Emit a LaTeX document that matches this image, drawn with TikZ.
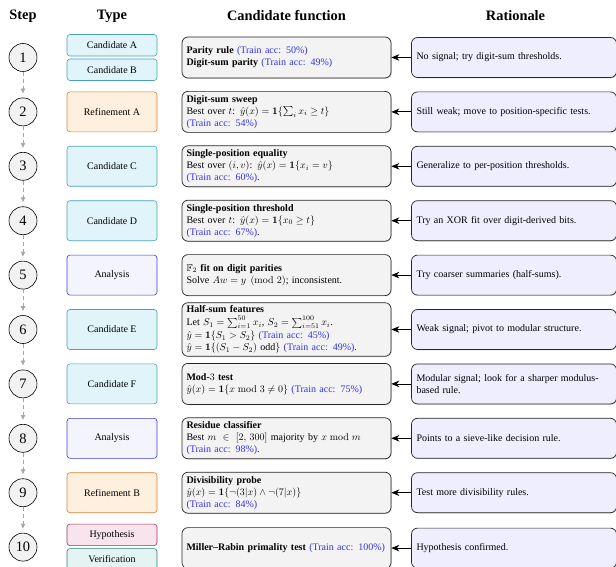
\documentclass[tikz,border=0pt]{standalone}
\usepackage[no-math]{fontspec}
\setmainfont{Liberation Serif}
\usepackage{amsmath,amssymb}
\usetikzlibrary{shapes,arrows.meta,shadows}
\definecolor{CandFill}{RGB}{224,244,250}
\definecolor{CandLine}{RGB}{70,160,190}
\definecolor{RefFill}{RGB}{255,239,222}
\definecolor{RefLine}{RGB}{214,130,50}
\definecolor{AnaFill}{RGB}{244,244,255}
\definecolor{AnaLine}{RGB}{60,60,220}
\definecolor{HypFill}{RGB}{248,228,236}
\definecolor{HypLine}{RGB}{160,50,80}
\definecolor{VerFill}{RGB}{228,244,242}
\definecolor{VerLine}{RGB}{40,130,120}
\definecolor{FuncFill}{RGB}{243,243,243}
\definecolor{RatFill}{RGB}{238,238,255}
\definecolor{AccBlue}{RGB}{50,50,240}
\newcommand{\trainacc}[1]{\textcolor{AccBlue}{(Train acc: #1\%)}}

\begin{document}
\begin{tikzpicture}[x=1pt, y=-1pt,
  header/.style={font=\Large\bfseries},
  stepcircle/.style={circle, draw, line width=0.6pt, fill=gray!10, minimum size=28pt, inner sep=0pt, font=\Large},
  typebox/.style={draw, rounded corners=3pt, line width=0.6pt, minimum width=90pt, minimum height=40pt, inner sep=2pt},
  halfbox/.style={typebox, minimum height=21.5pt},
  cand/.style={fill=CandFill, draw=CandLine},
  refine/.style={fill=RefFill, draw=RefLine},
  analysis/.style={fill=AnaFill, draw=AnaLine},
  hypo/.style={fill=HypFill, draw=HypLine},
  verif/.style={fill=VerFill, draw=VerLine},
  funcbox/.style={draw=black!85, line width=0.7pt, rounded corners=6pt, fill=FuncFill, text width=200pt, inner xsep=4.5pt, inner ysep=3pt, minimum height=41pt,
    drop shadow={shadow xshift=0.8pt, shadow yshift=-0.8pt, opacity=0.3}},
  ratbox/.style={draw=black!85, line width=0.7pt, rounded corners=6pt, fill=RatFill, text width=195pt, inner xsep=5pt, inner ysep=3pt, minimum height=40pt,
    drop shadow={shadow xshift=0.8pt, shadow yshift=-0.8pt, opacity=0.3}},
  flowarrow/.style={draw=gray!70, line width=0.7pt, dash pattern=on 4pt off 3pt, -{Latex[length=5pt,width=5pt]}, shorten >=4pt},
  backarrow/.style={line width=0.8pt, -{Stealth[length=8pt,width=6.5pt]}}]
\pgfmathsetmacro{\ya}{57.5} % centre of first row
\pgfmathsetmacro{\dy}{54.4} % row pitch
\pgfmathsetmacro{\xf}{286.5} % centre of function column
\pgfmathsetmacro{\xr}{514} % centre of rationale column

\useasboundingbox (0,0) rectangle (616,567);

% headers
\node[header] (hstep) at (23,16) {Step};
\node[header] (htype) at (112,16) {Type};
\node[header] (hfunc) at (\xf,16) {Candidate function};
\node[header] (hrat) at (515.5,16) {Rationale};

% steps
\foreach \i in {1,...,10}
  \node[stepcircle] (s\i) at (23,{\ya+(\i-1)*\dy}) {\i};
\foreach \i [remember=\i as \lasti (initially 1)] in {2,...,10}
  \draw[flowarrow] (s\lasti) -- (s\i);

% types
\node[halfbox,cand] (t1a) at (112,{\ya-12.25}) {Candidate A};
\node[halfbox,cand] (t1b) at (112,{\ya+12.25}) {Candidate B};
\node[typebox,refine] (t2) at (112,{\ya+1*\dy}) {Refinement A};
\node[typebox,cand] (t3) at (112,{\ya+2*\dy}) {Candidate C};
\node[typebox,cand] (t4) at (112,{\ya+3*\dy}) {Candidate D};
\node[typebox,analysis] (t5) at (112,{\ya+4*\dy}) {Analysis};
\node[typebox,cand] (t6) at (112,{\ya+5*\dy}) {Candidate E};
\node[typebox,cand] (t7) at (112,{\ya+6*\dy}) {Candidate F};
\node[typebox,analysis] (t8) at (112,{\ya+7*\dy}) {Analysis};
\node[typebox,refine] (t9) at (112,{\ya+8*\dy}) {Refinement B};
\node[halfbox,hypo] (t10a) at (112,{\ya+9*\dy-12.25}) {Hypothesis};
\node[halfbox,verif] (t10b) at (112,{\ya+9*\dy+12.25}) {Verification};

% candidate functions
\node[funcbox] (f1) at (\xf,{\ya}) {\textbf{Parity rule} \trainacc{50}\\ \textbf{Digit-sum parity} \trainacc{49}};
\node[funcbox] (f2) at (\xf,{\ya+1*\dy}) {\textbf{Digit-sum sweep}\\ Best over $t$: $\hat{y}(x)=\mathbf{1}\{\sum_i x_i\ge t\}$\\ \trainacc{54}};
\node[funcbox] (f3) at (\xf,{\ya+2*\dy}) {\textbf{Single-position equality}\\ Best over $(i,v)$: $\hat{y}(x)=\mathbf{1}\{x_i=v\}$\\ \trainacc{60}.};
\node[funcbox] (f4) at (\xf,{\ya+3*\dy}) {\textbf{Single-position threshold}\\ Best over $t$: $\hat{y}(x)=\mathbf{1}\{x_0\ge t\}$\\ \trainacc{67}.};
\node[funcbox] (f5) at (\xf,{\ya+4*\dy}) {\textbf{$\mathbb{F}_2$ fit on digit parities}\\ Solve $Aw=y \pmod{2}$; inconsistent.};
\node[funcbox] (f6) at (\xf,{\ya+5*\dy}) {\textbf{Half-sum features}\\[1pt] Let $S_1=\sum_{i=1}^{50}x_i$, $S_2=\sum_{i=51}^{100}x_i$.\\[1pt] $\hat{y}=\mathbf{1}\{S_1>S_2\}$ \trainacc{45}\\ $\hat{y}=\mathbf{1}\{(S_1-S_2)\text{ odd}\}$ \trainacc{49}.};
\node[funcbox] (f7) at (\xf,{\ya+6*\dy}) {\textbf{Mod-$3$ test}\\ $\hat{y}(x)=\mathbf{1}\{x \bmod 3\neq 0\}$ \trainacc{75}};
\node[funcbox] (f8) at (\xf,{\ya+7*\dy}) {\textbf{Residue classifier}\\ Best $m\in[2,\,300]$ majority by $x \bmod m$\linebreak \trainacc{98}.};
\node[funcbox] (f9) at (\xf,{\ya+8*\dy}) {\textbf{Divisibility probe}\\ $\hat{y}(x)=\mathbf{1}\{\neg(3|x)\wedge\neg(7|x)\}$\\ \trainacc{84}};
\node[funcbox] (f10) at (\xf,{\ya+9*\dy+1}) {\mbox{\textbf{Miller--Rabin primality test} \trainacc{100}}};

% rationale
\node[ratbox] (r1) at (\xr,{\ya}) {No signal; try digit-sum thresholds.};
\node[ratbox] (r2) at (\xr,{\ya+1*\dy}) {Still weak; move to position-specific tests.};
\node[ratbox] (r3) at (\xr,{\ya+2*\dy}) {Generalize to per-position thresholds.};
\node[ratbox] (r4) at (\xr,{\ya+3*\dy}) {Try an XOR fit over digit-derived bits.};
\node[ratbox] (r5) at (\xr,{\ya+4*\dy}) {Try coarser summaries (half-sums).};
\node[ratbox] (r6) at (\xr,{\ya+5*\dy}) {Weak signal; pivot to modular structure.};
\node[ratbox] (r7) at (\xr,{\ya+6*\dy}) {Modular signal; look for a sharper modulus-based rule.};
\node[ratbox] (r8) at (\xr,{\ya+7*\dy}) {Points to a sieve-like decision rule.};
\node[ratbox] (r9) at (\xr,{\ya+8*\dy}) {Test more divisibility rules.};
\node[ratbox] (r10) at (\xr,{\ya+9*\dy+1}) {Hypothesis confirmed.};

\foreach \i in {1,...,10}
  \draw[backarrow] (r\i) -- (f\i);

\end{tikzpicture}
\end{document}
